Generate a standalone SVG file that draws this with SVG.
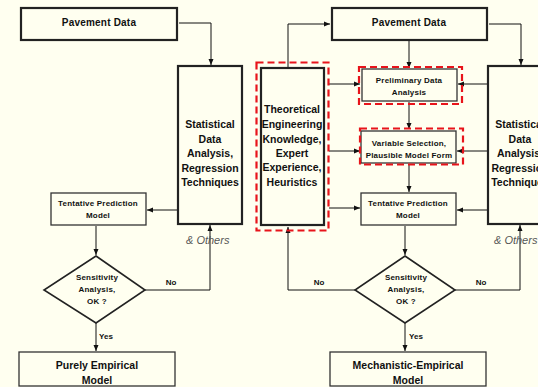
<svg xmlns="http://www.w3.org/2000/svg" width="538" height="387" viewBox="0 0 538 387">
<defs>
<marker id="ah" viewBox="0 0 6 6" refX="6" refY="3" markerWidth="6" markerHeight="6" orient="auto" markerUnits="userSpaceOnUse">
<path d="M0,0.5 L6,3 L0,5.5 z" fill="#111"/>
</marker>
<style>
.bg{fill:#FFFFF0}
.big{fill:#FFFFF0;stroke:#222;stroke-width:2.2}
.sm{fill:#FFFFF0;stroke:#333;stroke-width:1.3}
.dash{fill:none;stroke:#E8141B;stroke-width:2.2;stroke-dasharray:7,4}
.ln{fill:none;stroke:#111;stroke-width:1;marker-end:url(#ah)}
text{font-family:"Liberation Sans",Arial,sans-serif;font-weight:bold;fill:#111;text-anchor:middle}
.t11{font-size:10.5px}
.pv{font-size:10px;letter-spacing:0.2px}
.t8{font-size:8px;letter-spacing:0.2px}
.t10{font-size:10.5px}
.oth{font-size:11px;font-style:italic;font-weight:normal;fill:#555;text-anchor:start}
.lab{font-size:8px}
</style>
</defs>
<rect class="bg" x="0" y="0" width="538" height="387"/>

<g id="connectors">
<path class="ln" d="M179,23 H211 V65"/>
<path class="ln" d="M177,210 H147"/>
<path class="ln" d="M96,226 V255"/>
<path class="ln" d="M145,290 H210 V225"/>
<path class="ln" d="M96,323 V351"/>
<path class="ln" d="M288,68 V24 H330"/>
<path class="ln" d="M489,24 H521 V65"/>
<path class="ln" d="M409,41 V68"/>
<path class="ln" d="M329,84 H360"/>
<path class="ln" d="M488,84 H458"/>
<path class="ln" d="M409,102 V129"/>
<path class="ln" d="M329,151 H360"/>
<path class="ln" d="M488,151 H457"/>
<path class="ln" d="M409,165 V192"/>
<path class="ln" d="M329,208 H360"/>
<path class="ln" d="M488,210 H457"/>
<path class="ln" d="M405,226 V255"/>
<path class="ln" d="M355,290 H288 V227"/>
<path class="ln" d="M455,290 H520 V225"/>
<path class="ln" d="M405,323 V351"/>
</g>

<g id="n_pav_left">
<rect class="big" x="21" y="8" width="156" height="32"/>
<text class="pv" x="99" y="25.5">Pavement Data</text>
</g>
<g id="n_stat_left">
<rect class="big" x="178" y="66" width="64" height="158"/>
<text class="t11" x="210" y="128">Statistical</text>
<text class="t11" x="210" y="142.5">Data</text>
<text class="t11" x="210" y="157">Analysis,</text>
<text class="t11" x="210" y="171.5">Regression</text>
<text class="t11" x="210" y="186">Techniques</text>
</g>
<text class="oth" x="186" y="244">&amp; Others</text>
<g id="n_tent_left">
<rect class="sm" x="51" y="193" width="95" height="32"/>
<text class="t8" x="98" y="206">Tentative Prediction</text>
<text class="t8" x="98" y="218">Model</text>
</g>
<g id="n_sens_left">
<path class="big" style="stroke-width:1.6" d="M96,256 L145,290 L96,323 L44,290 Z"/>
<text class="t8" x="97" y="280">Sensitivity</text>
<text class="t8" x="97" y="292">Analysis,</text>
<text class="t8" x="97" y="304">OK ?</text>
</g>
<text class="lab" x="171" y="285">No</text>
<text class="lab" x="106" y="339">Yes</text>
<g id="n_emp">
<rect class="sm" x="19" y="352" width="156" height="34"/>
<text class="t10" x="97" y="368.5">Purely Empirical</text>
<text class="t10" x="97" y="383.5">Model</text>
</g>

<g id="n_theo">
<rect class="big" x="261" y="68" width="63" height="157"/>
<rect class="dash" x="256.5" y="62.5" width="72" height="168"/>
<text class="t11" x="292" y="113">Theoretical</text>
<text class="t11" x="292" y="128">Engineering</text>
<text class="t11" x="292" y="142.5">Knowledge,</text>
<text class="t11" x="292" y="156.5">Expert</text>
<text class="t11" x="292" y="171">Experience,</text>
<text class="t11" x="292" y="185.5">Heuristics</text>
</g>
<g id="n_pav_right">
<rect class="big" x="332" y="8" width="155" height="32"/>
<text class="pv" x="409" y="25.5">Pavement Data</text>
</g>
<g id="n_prelim">
<rect class="sm" x="362" y="69" width="95" height="32"/>
<rect class="dash" x="359" y="67" width="103" height="37"/>
<text class="t8" x="409" y="83">Preliminary Data</text>
<text class="t8" x="409" y="95">Analysis</text>
</g>
<g id="n_var">
<rect class="sm" x="361" y="131" width="95" height="32"/>
<rect class="dash" x="360" y="128.5" width="103" height="36"/>
<text class="t8" x="409" y="146">Variable Selection,</text>
<text class="t8" x="409" y="158">Plausible Model Form</text>
</g>
<g id="n_tent_right">
<rect class="sm" x="361" y="193" width="95" height="32"/>
<text class="t8" x="408" y="206">Tentative Prediction</text>
<text class="t8" x="408" y="218">Model</text>
</g>
<g id="n_stat_right">
<rect class="big" x="488" y="66" width="64" height="158"/>
<text class="t11" x="520" y="128">Statistical</text>
<text class="t11" x="520" y="142.5">Data</text>
<text class="t11" x="520" y="157">Analysis,</text>
<text class="t11" x="520" y="171.5">Regression</text>
<text class="t11" x="520" y="186">Techniques</text>
</g>
<text class="oth" x="494" y="244">&amp; Others</text>
<g id="n_sens_right">
<path class="big" style="stroke-width:1.6" d="M405,256 L455,290 L405,323 L355,290 Z"/>
<text class="t8" x="406" y="280">Sensitivity</text>
<text class="t8" x="406" y="292">Analysis,</text>
<text class="t8" x="406" y="304">OK ?</text>
</g>
<text class="lab" x="319" y="285">No</text>
<text class="lab" x="481" y="285">No</text>
<text class="lab" x="416" y="339">Yes</text>
<g id="n_me">
<rect class="sm" x="330" y="352" width="156" height="34"/>
<text class="t10" x="408" y="368.5">Mechanistic-Empirical</text>
<text class="t10" x="408" y="383.5">Model</text>
</g>
</svg>
